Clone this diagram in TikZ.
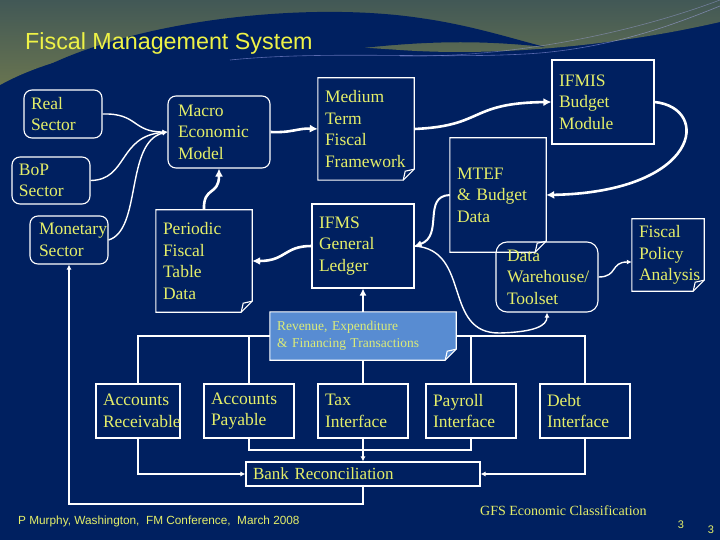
\documentclass[tikz,border=0pt]{standalone}
\usepackage{fontspec}
\setmainfont{Liberation Serif}
\newfontfamily\titlefont{Liberation Sans}
\usetikzlibrary{arrows.meta}
\definecolor{navy}{RGB}{0,32,96}
\definecolor{ytext}{RGB}{228,238,105}
\definecolor{ytitle}{RGB}{238,242,70}
\definecolor{revblue}{RGB}{88,140,210}
\definecolor{revtext}{RGB}{220,236,120}
\definecolor{purp}{RGB}{86,42,84}
\definecolor{olive}{RGB}{104,116,80}
\definecolor{tealg}{RGB}{66,88,86}
\pgfdeclarelayer{back}
\pgfdeclarelayer{bg}
\pgfsetlayers{back,bg,main}
\newcommand\noteframe[2][none]{%
  \draw[boxline, fill=#1] (#2.north west) -- (#2.north east) -- ([yshift=11pt]#2.south east) -- ([xshift=-11pt]#2.south east) -- (#2.south west) -- cycle;
  \draw[boxline] ([xshift=-11pt]#2.south east) -- ([xshift=-9pt,yshift=9pt]#2.south east) -- ([yshift=11pt]#2.south east);}
\begin{document}
\begin{tikzpicture}[x=1pt,y=-1pt,
  boxline/.style={draw=white, line width=1.1pt},
  boxtext/.style={rectangle, inner xsep=7pt, inner ysep=0pt, text=ytext, align=left,
    font=\fontsize{17.5}{21.5}\selectfont},
  box/.style={boxtext, boxline},
  rbox/.style={box, rounded corners=8pt},
  note/.style={boxtext},
  bigtip/.style={-{Latex[length=8pt,width=8pt]}},
  thickarrow/.style={draw=white, line width=2.6pt, bigtip},
  medarrow/.style={draw=white, line width=2pt, -{Latex[length=7pt,width=7pt]}},
  thinarrow/.style={draw=white, line width=1.4pt, -{Latex[length=5pt,width=5pt]}},
  bus/.style={draw=white, line width=1.8pt},
  bustip/.style={-{Latex[length=5pt,width=5pt]}}
]
\useasboundingbox (0,0) rectangle (720,540);
% background
\begin{pgfonlayer}{back}
\fill[navy] (0,0) rectangle (720,540);
\shade[top color=tealg, middle color=purp, bottom color=olive]
  (0,0) -- (720,0) -- (720,22) .. controls (620,45) and (500,57) .. (400,50)
  .. controls (250,40) and (100,30) .. (0,85) -- cycle;
\fill[navy] (18,82) .. controls (110,22) and (300,0) .. (420,18)
  .. controls (470,25) and (510,38) .. (545,47)
  .. controls (480,40) and (420,40) .. (330,52)
  .. controls (200,62) and (100,70) .. (18,82) -- cycle;
\draw[white!70!blue, opacity=0.5, line width=0.6pt]
  (230,60) .. controls (330,50) and (450,60) .. (540,53) .. controls (620,46) and (680,22) .. (720,6);
\draw[white!70!blue, opacity=0.4, line width=0.6pt]
  (400,56) .. controls (520,58) and (640,30) .. (720,0);
\end{pgfonlayer}

% title
\node[anchor=west, inner sep=0pt, text=ytitle, font=\titlefont\fontsize{23.3}{24}\selectfont] (title) at (25,43) {Fiscal Management System};

% boxes
\node[rbox, text width=64pt, minimum height=48pt] (real) at (63,114) {Real\\Sector};
\node[rbox, text width=64pt, minimum height=47pt] (bop) at (51,180.5) {BoP\\Sector};
\node[rbox, inner xsep=9pt, text width=60pt, minimum height=48pt] (mon) at (69,240) {Monetary\\Sector};
\node[rbox, inner xsep=10pt, text width=82pt, minimum height=72pt] (macro) at (219,132) {Macro\\Economic\\Model};
\node[note, text width=82pt, minimum height=102pt] (mtff) at (366,129) {Medium\\Term\\Fiscal\\Framework};
\noteframe{mtff}
\node[box, text width=88pt, minimum height=84pt] (ifmis) at (603,102) {IFMIS\\Budget\\Module};
\node[note, text width=82pt, minimum height=114pt] (mtef) at (498,195) {MTEF\\\&~Budget\\Data};
\noteframe{mtef}
\node[box, rounded corners=11pt, inner xsep=11pt, text width=80pt, minimum height=70pt] (dw) at (547,277) {Data\\Warehouse/\\Toolset};
\node[note, text width=58pt, minimum height=72pt] (fpa) at (668,255) {Fiscal\\Policy\\Analysis};
\noteframe{fpa}
\node[note, text width=82pt, minimum height=102pt] (per) at (204,261) {Periodic\\Fiscal\\Table\\Data};
\noteframe{per}
\node[box, text width=88pt, minimum height=84pt] (gl) at (363,246) {IFMS\\General\\Ledger};
\node[note, text=revtext, text width=172pt, minimum height=48pt, font=\fontsize{13.5}{17}\selectfont] (rev) at (363,336) {Revenue, Expenditure\\\&~Financing Transactions};
\begin{pgfonlayer}{bg}
\fill[revblue] (rev.north west) -- (rev.north east) -- ([yshift=11pt]rev.south east) -- ([xshift=-11pt]rev.south east) -- (rev.south west) -- cycle;
\end{pgfonlayer}
\noteframe{rev}
\node[box, text width=70pt, minimum height=54pt] (ar) at (138,411) {Accounts\\Receivable};
\node[box, text width=76pt, minimum height=54pt] (ap) at (249,411) {Accounts\\Payable};
\node[box, text width=76pt, minimum height=54pt] (tax) at (363,411) {Tax\\Interface};
\node[box, text width=76pt, minimum height=54pt] (pay) at (471,411) {Payroll\\Interface};
\node[box, text width=76pt, minimum height=54pt] (debt) at (585,411) {Debt\\Interface};
\node[box, text width=220pt, minimum height=24pt, font=\fontsize{17}{20}\selectfont] (bank) at (363,474) {Bank Reconciliation};

% footer texts
\node[anchor=west, inner sep=0pt, text=ytext, font=\titlefont\fontsize{11.8}{12}\selectfont] (foot) at (18,521) {P Murphy, Washington,\ \ FM Conference,\ \ March 2008};
\node[anchor=west, inner sep=0pt, text=ytext, font=\fontsize{14}{15}\selectfont] (gfs) at (480,511) {GFS Economic Classification};
\node[inner sep=0pt, text=ytext, font=\titlefont\fontsize{11}{12}\selectfont] (pgA) at (681,525) {3};
\node[inner sep=0pt, text=ytext, font=\titlefont\fontsize{11}{12}\selectfont] (pgB) at (711,530) {3};

% connectors: sectors to macro model
\draw[thinarrow] (real.east) .. controls (138,113) and (132,132) .. (macro.west);
\draw[thinarrow] (bop.east) .. controls (128,180) and (118,136) .. (macro.west);
\draw[thinarrow] (mon.east) .. controls (142,230) and (125,142) .. (macro.west);
% main flow
\draw[thickarrow] (macro.east) .. controls (292,133) and (298,128) .. (mtff.west);
\draw[thickarrow] (per.north) .. controls (203,186) and (219,196) .. (macro.south);
\draw[thickarrow] (mtff.east) .. controls (485,126) and (468,103) .. (ifmis.west);
\draw[thickarrow] (ifmis.east) .. controls (712,108) and (700,192) .. (mtef.east);
\draw[medarrow] (mtef.west) .. controls (422,196) and (444,236) .. (gl.east);
\draw[thinarrow] (gl.east) .. controls (472,250) and (442,334) .. (500,333)
  .. controls (534,332) and (547,326) .. (dw.south);
\draw[thinarrow] (dw.east) .. controls (618,277) and (610,262) .. ([yshift=-7pt]fpa.west);
\draw[thickarrow] (gl.west) .. controls (284,246) and (286,261) .. (per.east);
\draw[medarrow] (rev.north) -- (gl.south);

% transaction bus
\draw[bus] (rev.west) -| (ar.north);
\draw[bus] (rev.west) -| (ap.north);
\draw[bus] (rev.east) -| (pay.north);
\draw[bus] (rev.east) -| (debt.north);
\draw[bus] (rev.south) -- (tax.north);
\coordinate (jb) at (363,450);
\draw[bus] (ap.south) |- (jb) -| (pay.south);
\draw[bus, bustip] (tax.south) -- (bank.north);
\draw[bus, bustip] (ar.south) |- (bank.west);
\draw[bus, bustip] (debt.south) |- (bank.east);
\coordinate (bb) at (69,504);
\draw[bus, bustip] (bank.south) |- (bb) -- (mon.south);
\end{tikzpicture}
\end{document}
